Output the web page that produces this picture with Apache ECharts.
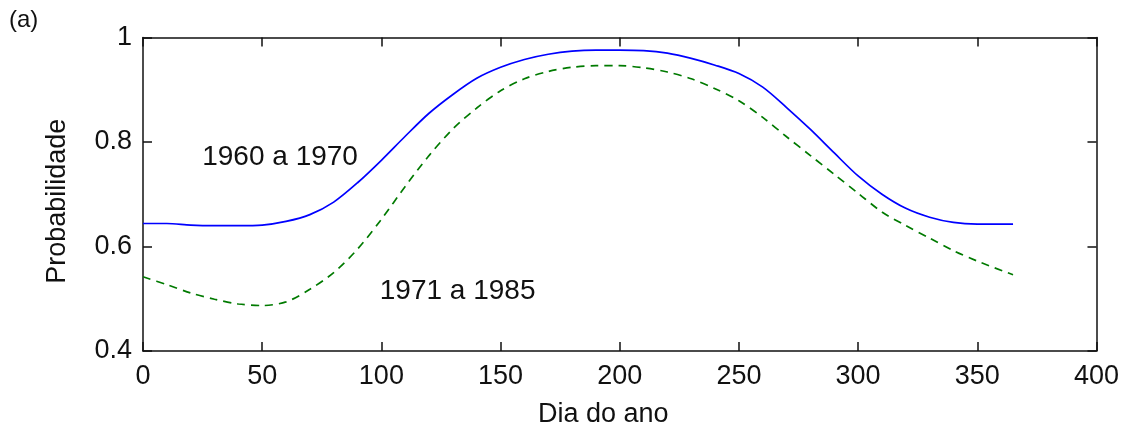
<!DOCTYPE html>
<html>
<head>
<meta charset="utf-8">
<title>Probabilidade por dia do ano</title>
<script src="https://cdn.jsdelivr.net/npm/echarts@6/dist/echarts.min.js"></script>
<style>
  html, body { margin: 0; padding: 0; background: #fff; }
  #chart { width: 1122px; height: 433px; }
</style>
</head>
<body>
<div id="chart"></div>
<script>
// Day of year for each sample
const days = [0, 10, 20, 30, 40, 50, 60, 70, 80, 90, 100, 110, 120, 130, 140, 150, 160, 170, 180,
  190, 200, 210, 220, 230, 240, 250, 260, 270, 280, 290, 300, 310, 320, 330, 340, 350, 365];

// Probability, period 1960 a 1970
const p1960_1970 = [0.644, 0.644, 0.641, 0.640, 0.640, 0.641, 0.648, 0.661, 0.685, 0.722, 0.765,
  0.811, 0.855, 0.891, 0.922, 0.943, 0.958, 0.968, 0.974, 0.976, 0.976, 0.975, 0.970, 0.960,
  0.947, 0.931, 0.905, 0.866, 0.824, 0.779, 0.735, 0.700, 0.673, 0.656, 0.646, 0.643, 0.643];

// Probability, period 1971 a 1985
const p1971_1985 = [0.542, 0.527, 0.511, 0.499, 0.490, 0.487, 0.494, 0.518, 0.550, 0.595, 0.652,
  0.715, 0.774, 0.825, 0.865, 0.898, 0.921, 0.935, 0.943, 0.946, 0.946, 0.942, 0.934, 0.921,
  0.902, 0.879, 0.847, 0.810, 0.774, 0.738, 0.702, 0.666, 0.640, 0.616, 0.592, 0.572, 0.546];

// Curve labels, placed in data coordinates
const curveLabels = ['1960 a 1970', '1971 a 1985'];
const curveLabelDays = [57.5, 132];
const curveLabelValues = [0.770, 0.514];

const xTicks = [0, 50, 100, 150, 200, 250, 300, 350, 400];
const yTicks = [0.4, 0.6, 0.8, 1];

const FONT = 'Liberation Sans, Arial, sans-serif';
const TXT = '#111111';

const pair = (xs, ys) => xs.map((x, i) => [x, ys[i]]);

const frameAxis = {
  axisLine: { show: true, onZero: false, lineStyle: { color: '#111111', width: 1.5 } },
  axisTick: { show: true, inside: true, length: 9, lineStyle: { color: '#111111', width: 1.5 } },
  splitLine: { show: false }
};

const chart = echarts.init(document.getElementById('chart'), null, { renderer: 'canvas' });

chart.setOption({
  animation: false,
  backgroundColor: '#ffffff',
  textStyle: { fontFamily: FONT },
  grid: { left: 143, right: 22, top: 37.5, bottom: 80.5, containLabel: false },
  graphic: [{
    type: 'text', left: 9, top: 8,
    style: { text: '(a)', font: '24px ' + FONT, fill: TXT }
  }],
  xAxis: [
    Object.assign({
      type: 'value', position: 'bottom',
      min: xTicks[0], max: xTicks[xTicks.length - 1], interval: 50,
      name: 'Dia do ano', nameLocation: 'middle', nameGap: 50,
      nameTextStyle: { fontSize: 27, color: TXT, fontFamily: FONT, padding: [0, 33, 0, 0] },
      axisLabel: { fontSize: 27, color: TXT, fontFamily: FONT, margin: 12 }
    }, frameAxis),
    Object.assign({
      type: 'value', position: 'top',
      min: xTicks[0], max: xTicks[xTicks.length - 1], interval: 50,
      axisLabel: { show: false }
    }, frameAxis)
  ],
  yAxis: [
    Object.assign({
      type: 'value', position: 'left',
      min: yTicks[0], max: yTicks[yTicks.length - 1], interval: 0.2,
      name: 'Probabilidade', nameLocation: 'middle', nameGap: 72,
      nameTextStyle: { fontSize: 27, color: TXT, fontFamily: FONT, padding: [0, 14, 0, 0] },
      axisLabel: {
        fontSize: 27, color: TXT, fontFamily: FONT, margin: 11,
        formatter: v => String(Math.round(v * 10) / 10)
      }
    }, frameAxis),
    Object.assign({
      type: 'value', position: 'right',
      min: yTicks[0], max: yTicks[yTicks.length - 1], interval: 0.2,
      axisLabel: { show: false }
    }, frameAxis)
  ],
  series: [
    {
      name: '1960 a 1970', type: 'line',
      data: pair(days, p1960_1970),
      smooth: 0.3, showSymbol: false,
      lineStyle: { color: '#0000ff', width: 1.7 }
    },
    {
      name: '1971 a 1985', type: 'line',
      data: pair(days, p1971_1985),
      smooth: 0.3, showSymbol: false,
      lineStyle: { color: '#007a00', width: 1.7, type: [8, 6] }
    },
    {
      name: 'rótulos', type: 'scatter',
      data: curveLabels.map((t, i) => ({ value: [curveLabelDays[i], curveLabelValues[i]], name: t })),
      symbolSize: 0, silent: true,
      itemStyle: { opacity: 1 },
      label: {
        show: true, position: 'inside', formatter: p => p.name,
        fontSize: 28, color: TXT, fontFamily: FONT, opacity: 1
      }
    }
  ]
});
</script>
</body>
</html>
